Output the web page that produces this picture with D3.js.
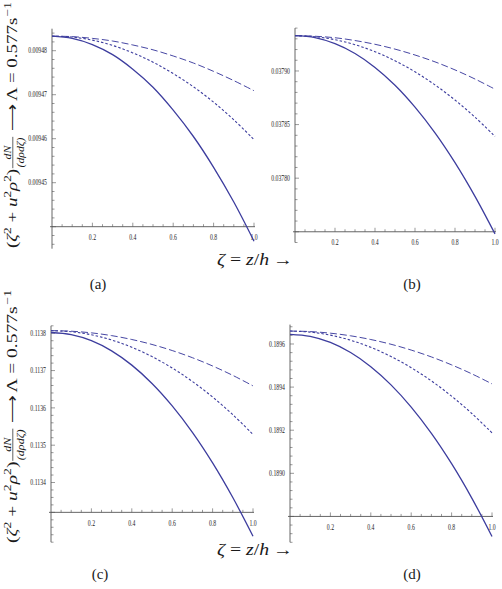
<!DOCTYPE html>
<html><head><meta charset="utf-8">
<script src="https://cdn.jsdelivr.net/npm/d3@7"></script>
<style>body{margin:0;background:#fff}svg{display:block}</style>
</head><body>
<svg id="c" width="502" height="589"></svg>
<script>
// ---------- data ----------
const zeta = [0,0.1,0.2,0.3,0.4,0.5,0.6,0.7,0.8,0.9,1.0];
const xTicks = [0.2,0.4,0.6,0.8,1.0];
const xTickLabels = ["0.2","0.4","0.6","0.8","1.0"];

const solidA  = [0.0094833,0.0094828,0.0094814,0.0094791,0.0094758,0.0094717,0.0094665,0.0094605,0.0094535,0.0094456,0.0094367];
const dashedA = [0.0094833,0.0094832,0.0094828,0.0094822,0.0094813,0.0094802,0.0094788,0.0094772,0.0094753,0.0094732,0.0094709];
const dottedA = [0.0094833,0.0094831,0.0094824,0.0094812,0.0094795,0.0094774,0.0094748,0.0094718,0.0094683,0.0094643,0.0094598];
const yTicksA = [0.00945,0.00946,0.00947,0.00948];
const yTickLabelsA = ["0.00945","0.00946","0.00947","0.00948"];

const solidB  = [0.0379329,0.0379311,0.0379255,0.0379163,0.0379033,0.0378867,0.0378663,0.0378423,0.0378145,0.037783,0.037748];
const dashedB = [0.0379329,0.0379324,0.037931,0.0379284,0.0379249,0.0379204,0.0379149,0.0379085,0.037901,0.0378925,0.037883];
const dottedB = [0.0379329,0.037932,0.0379292,0.0379245,0.037918,0.0379095,0.0378992,0.037887,0.0378729,0.0378569,0.037839];
const yTicksB = [0.0378,0.03785,0.0379];
const yTickLabelsB = ["0.03780","0.03785","0.03790"];

const solidC  = [0.113802,0.1137965,0.1137802,0.1137529,0.1137146,0.1136655,0.1136054,0.1135345,0.1134526,0.1133597,0.113256];
const dashedC = [0.113807,0.1138055,0.1138011,0.1137937,0.1137833,0.11377,0.1137537,0.1137345,0.1137123,0.1136871,0.113659];
const dottedC = [0.113807,0.1138042,0.1137959,0.113782,0.1137625,0.1137375,0.1137069,0.1136708,0.1136291,0.1135818,0.113529];
const yTicksC = [0.1134,0.1135,0.1136,0.1137,0.1138];
const yTickLabelsC = ["0.1134","0.1135","0.1136","0.1137","0.1138"];

const solidD  = [0.189645,0.1896356,0.1896075,0.1895606,0.1894949,0.1894105,0.1893073,0.1891854,0.1890447,0.1888852,0.188707];
const dashedD = [0.18966,0.1896576,0.1896502,0.189638,0.1896208,0.1895988,0.1895718,0.18954,0.1895032,0.1894616,0.189415];
const dottedD = [0.18966,0.1896553,0.1896411,0.1896175,0.1895845,0.189542,0.1894901,0.1894287,0.1893579,0.1892777,0.189188];
const yTicksD = [0.189,0.1892,0.1894,0.1896];
const yTickLabelsD = ["0.1890","0.1892","0.1894","0.1896"];

const panelLetters = ["(a)","(b)","(c)","(d)"];

// ---------- layout ----------
const svg = d3.select('#c');
const FONT = "'Liberation Serif','Times New Roman',serif";
const CURVE = "#3d3d9e";
const AXIS = "#555";
const TXT = "#1a1a1a";
const panels = [
  {series:[solidA,dashedA,dottedA], yt:yTicksA, yl:yTickLabelsA, x0:52,  x1:254, yTop:28.7,  yBot:248.7, dom:[0.009435,0.009485], axisV:0.00944, minor:0.000002, lx:98,  ly:289},
  {series:[solidB,dashedB,dottedB], yt:yTicksB, yl:yTickLabelsB, x0:295, x1:495, yTop:28.1,  yBot:242.5, dom:[0.03774,0.03794],   axisV:0.03775, minor:0.00001,  lx:412, ly:289},
  {series:[solidC,dashedC,dottedC], yt:yTicksC, yl:yTickLabelsC, x0:51,  x1:253, yTop:325.8, yBot:542.2, dom:[0.11324,0.11382],   axisV:0.11332, minor:0.00002,  lx:100, ly:579},
  {series:[solidD,dashedD,dottedD], yt:yTicksD, yl:yTickLabelsD, x0:290, x1:492, yTop:324.6, yBot:542.3, dom:[0.18868,0.18969],   axisV:0.1888,  minor:0.00004,  lx:412, ly:579}
];
const styles = [
  {w:1.3, dash:null},
  {w:0.95, dash:"7,3"},
  {w:1.1, dash:"2.5,2"}
];

panels.forEach((p,i) => {
  const x = d3.scaleLinear().domain([0,1]).range([p.x0,p.x1]);
  const y = d3.scaleLinear().domain(p.dom).range([p.yBot,p.yTop]);
  const g = svg.append('g');
  const ax = y(p.axisV);
  const clipId = 'clip'+i;
  svg.append('clipPath').attr('id',clipId).append('rect')
    .attr('x',p.x0-1).attr('y',p.yTop).attr('width',p.x1-p.x0+4).attr('height',p.yBot-p.yTop);

  // y ticks (major + minor)
  const n0 = Math.ceil(p.dom[0]/p.minor - 1e-6), n1 = Math.floor(p.dom[1]/p.minor + 1e-6);
  d3.range(n0,n1+1).forEach(k => {
    const v = k*p.minor;
    const isMajor = p.yt.some(t => Math.abs(t-v) < p.minor*0.1) || Math.abs(v-p.axisV) < p.minor*0.1;
    g.append('line').attr('x1',x(0)).attr('x2',x(0)+(isMajor?4:2.5))
      .attr('y1',y(v)).attr('y2',y(v)).attr('stroke',AXIS).attr('stroke-width',0.6);
  });
  // x ticks
  d3.range(1,21).forEach(k => {
    const v = k*0.05;
    const isMajor = k%4===0;
    g.append('line').attr('x1',x(v)).attr('x2',x(v))
      .attr('y1',ax).attr('y2',ax-(isMajor?4:2.5)).attr('stroke',AXIS).attr('stroke-width',0.6);
  });
  // axes
  g.append('line').attr('x1',x(0)).attr('x2',x(0)).attr('y1',p.yTop).attr('y2',p.yBot)
    .attr('stroke',AXIS).attr('stroke-width',0.9);
  g.append('line').attr('x1',x(0)-2).attr('x2',x(1)+1).attr('y1',ax).attr('y2',ax)
    .attr('stroke',AXIS).attr('stroke-width',0.9);

  // tick labels
  p.yt.forEach((t,j) => {
    g.append('text').attr('transform',`translate(${x(0)-5},${y(t)+2.7}) scale(0.74,1)`)
      .attr('text-anchor','end').attr('font-family',FONT).attr('font-size',7.8)
      .attr('fill',TXT).text(p.yl[j]);
  });
  xTicks.forEach((t,j) => {
    g.append('text').attr('transform',`translate(${x(t)},${ax+13.3}) scale(0.74,1)`)
      .attr('text-anchor','middle').attr('font-family',FONT).attr('font-size',7.8)
      .attr('fill',TXT).text(xTickLabels[j]);
  });

  // curves
  const line = d3.line().x((d,k)=>x(zeta[k])).y(d=>y(d)).curve(d3.curveCatmullRom.alpha(0.5));
  const cg = g.append('g').attr('clip-path',`url(#${clipId})`);
  p.series.forEach((s,k) => {
    cg.append('path').attr('d',line(s)).attr('fill','none').attr('stroke',CURVE)
      .attr('stroke-width',styles[k].w).attr('stroke-dasharray',styles[k].dash);
  });

  // panel letter
  svg.append('text').attr('x',p.lx).attr('y',p.ly).attr('text-anchor','middle')
    .attr('font-family',FONT).attr('font-size',15).attr('fill',TXT).text(panelLetters[i]);
});

// ---------- rich text helper ----------
function richLabel(parent, pieces, size) {
  const t = parent.append('g');
  let cx = 0;
  pieces.forEach(pc => {
    if (pc.frac) {
      const fs = size*0.62;
      const n = t.append('text').attr('font-family',FONT).attr('font-size',fs).attr('font-style','italic')
        .attr('fill',TXT).attr('y',-size*0.42).text(pc.frac[0]);
      const d = t.append('text').attr('font-family',FONT).attr('font-size',fs).attr('font-style','italic')
        .attr('fill',TXT).attr('y',size*0.45).text(pc.frac[1]);
      const wn = n.node().getComputedTextLength(), wd = d.node().getComputedTextLength();
      const w = Math.max(wn,wd)+2;
      n.attr('x',cx+(w-wn)/2); d.attr('x',cx+(w-wd)/2);
      t.append('line').attr('x1',cx+0.5).attr('x2',cx+w-0.5).attr('y1',-size*0.28).attr('y2',-size*0.28)
        .attr('stroke',TXT).attr('stroke-width',0.6);
      cx += w;
      return;
    }
    const fs = pc.sup ? size*0.7 : size;
    const el = t.append('text').attr('x',cx).attr('y',pc.sup? -size*0.4 : 0)
      .attr('font-family',FONT).attr('font-size',fs).attr('fill',TXT)
      .attr('font-style',pc.it?'italic':'normal').style('white-space','pre').text(pc.s);
    cx += el.node().getComputedTextLength();
  });
  return {g:t, w:cx};
}

const yPieces = [
  {s:"("},{s:"ζ",it:true},{s:"2",sup:true},{s:" + "},{s:"u",it:true},{s:"2",sup:true},{s:"ρ",it:true},{s:"2",sup:true},{s:")"},
  {frac:["dN","(dρdζ)"]},{s:" ⟶ Λ = 0.577s"},{s:"−1",sup:true}
];
[[17,248,246],[17,543,253]].forEach(([bx,by,len]) => {
  const g = svg.append('g');
  const r = richLabel(g, yPieces, 15);
  g.attr('transform',`translate(${bx},${by}) rotate(-90) scale(${len/r.w},1)`);
});

const xPieces = [{s:"ζ",it:true},{s:" = "},{s:"z",it:true},{s:"/"},{s:"h",it:true},{s:"\u2009→"}];
[[265],[555]].forEach(([by]) => {
  const g = svg.append('g');
  const r = richLabel(g, xPieces, 16);
  const k = 76 / r.w;
  g.attr('transform',`translate(${255 - 38},${by}) scale(${k},1)`);
});
</script>
</body></html>
